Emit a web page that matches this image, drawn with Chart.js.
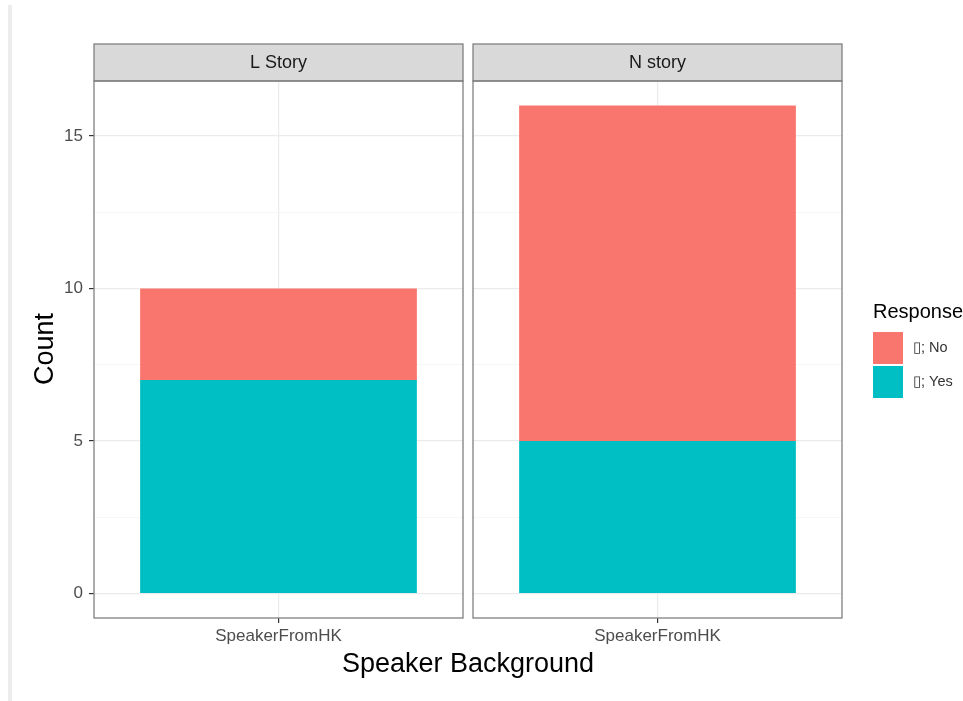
<!DOCTYPE html>
<html>
<head>
<meta charset="utf-8">
<script src="https://cdn.jsdelivr.net/npm/chart.js@4"></script>
<style>
  html, body { margin: 0; padding: 0; background: #ffffff; }
  #wrap { position: relative; width: 963px; height: 701px; overflow: hidden; background: #ffffff; }
  #wrap canvas { position: absolute; left: 0; top: 0; }
  #edge { position: absolute; left: 8px; top: 5px; width: 4px; height: 696px; background: #ececec; }
</style>
</head>
<body>
<div id="wrap">
  <div id="edge"></div>
  <canvas id="panelL" width="963" height="701"></canvas>
  <canvas id="panelN" width="963" height="701"></canvas>
</div>
<script>
// Facets, category and response counts
const panels = ['L Story', 'N story'];
const categories = ['SpeakerFromHK'];
const responseNo = '\u25AF; No';
const responseYes = '\u25AF; Yes';
const noCounts = [3, 11];
const yesCounts = [7, 5];
const yTicks = [0, 2.5, 5, 7.5, 10, 12.5, 15];

const colNo = '#F8766D';
const colYes = '#00BFC4';
const FONT = '"Liberation Sans", Arial, Helvetica, sans-serif';

// Panel geometry (pixels on the page)
const panelX = [[94, 463], [473, 842]];
const areaTop = 81, areaBottom = 618, stripTop = 44;
const W = 963, H = 701;
const yAxisW = 60;   // room kept for the y tick labels
const xAxisH = 34;   // room kept for the x tick labels

const isMajor = v => Math.abs(v % 5) < 1e-9;

// Strip header and panel frame
const framePlugin = {
  id: 'frame',
  afterDatasetsDraw(chart, args, opts) {
    const ctx = chart.ctx;
    const a = chart.chartArea;
    ctx.save();
    // strip
    ctx.fillStyle = '#d9d9d9';
    ctx.fillRect(a.left, stripTop, a.right - a.left, a.top - stripTop);
    ctx.strokeStyle = '#808080';
    ctx.lineWidth = 1.3;
    ctx.strokeRect(a.left, stripTop, a.right - a.left, a.top - stripTop);
    ctx.fillStyle = '#1a1a1a';
    ctx.font = '18px ' + FONT;
    ctx.textAlign = 'center';
    ctx.textBaseline = 'middle';
    ctx.fillText(opts.title, (a.left + a.right) / 2, (stripTop + a.top) / 2 + 1);
    // panel border
    ctx.strokeRect(a.left, a.top, a.right - a.left, a.bottom - a.top);
    ctx.restore();
  }
};

// Axis titles, drawn once on the left panel
const titlesPlugin = {
  id: 'titles',
  afterDraw(chart) {
    const ctx = chart.ctx;
    ctx.save();
    ctx.fillStyle = '#000000';
    ctx.font = '27px ' + FONT;
    ctx.textAlign = 'center';
    ctx.textBaseline = 'alphabetic';
    ctx.fillText('Speaker Background', (panelX[0][0] + panelX[1][1]) / 2, 672);
    ctx.translate(53, 349);
    ctx.rotate(-Math.PI / 2);
    ctx.fillText('Count', 0, 0);
    ctx.restore();
  }
};

// Legend for the fill, drawn on the right panel
const legendPlugin = {
  id: 'fillLegend',
  afterDraw(chart) {
    const ctx = chart.ctx;
    const items = chart.data.datasets.slice().reverse();
    ctx.save();
    ctx.fillStyle = '#000000';
    ctx.font = '20px ' + FONT;
    ctx.textAlign = 'left';
    ctx.textBaseline = 'alphabetic';
    ctx.fillText('Response', 873, 318);
    const keyTop = [332, 366];
    ctx.font = '14.5px ' + FONT;
    ctx.textBaseline = 'middle';
    items.forEach((ds, i) => {
      ctx.fillStyle = ds.backgroundColor;
      ctx.fillRect(873, keyTop[i], 30, 32);
      ctx.fillStyle = '#333333';
      ctx.fillText(ds.label, 913, keyTop[i] + 16);
    });
    ctx.restore();
  }
};

function makePanel(canvasId, idx) {
  const first = idx === 0;
  const yW = first ? yAxisW : 0;
  return new Chart(document.getElementById(canvasId), {
    type: 'bar',
    data: {
      labels: categories,
      datasets: [
        { label: responseYes, data: [yesCounts[idx]], backgroundColor: colYes, borderWidth: 0 },
        { label: responseNo, data: [noCounts[idx]], backgroundColor: colNo, borderWidth: 0 }
      ]
    },
    options: {
      responsive: false,
      animation: false,
      devicePixelRatio: 1,
      layout: {
        padding: {
          left: panelX[idx][0] - yW,
          right: W - panelX[idx][1],
          top: areaTop,
          bottom: H - areaBottom - xAxisH
        }
      },
      datasets: { bar: { barPercentage: 0.75, categoryPercentage: 1.0 } },
      plugins: {
        legend: { display: false },
        tooltip: { enabled: false },
        frame: { title: panels[idx] }
      },
      scales: {
        x: {
          type: 'category',
          stacked: true,
          offset: true,
          afterFit: s => { s.height = xAxisH; },
          border: { display: false },
          grid: { offset: false, color: '#ebebeb', lineWidth: 1.2, tickColor: '#333333', tickLength: 5 },
          ticks: { color: '#4d4d4d', font: { family: FONT, size: 17 }, padding: 3 }
        },
        y: {
          stacked: true,
          min: -0.8,
          max: 16.8,
          afterFit: s => { s.width = yW; },
          afterBuildTicks: s => { s.ticks = yTicks.map(v => ({ value: v })); },
          border: { display: false },
          grid: {
            color: c => isMajor(c.tick.value) ? '#ebebeb' : '#f4f4f4',
            lineWidth: c => isMajor(c.tick.value) ? 1.2 : 0.8,
            tickColor: c => (first && isMajor(c.tick.value)) ? '#333333' : 'rgba(0,0,0,0)',
            tickLength: first ? 5 : 0
          },
          ticks: {
            display: first,
            color: '#4d4d4d',
            font: { family: FONT, size: 17 },
            padding: 6,
            autoSkip: false,
            callback: v => isMajor(v) ? String(v) : ''
          }
        }
      }
    },
    plugins: first ? [framePlugin, titlesPlugin] : [framePlugin, legendPlugin]
  });
}

makePanel('panelL', 0);
makePanel('panelN', 1);
</script>
</body>
</html>
